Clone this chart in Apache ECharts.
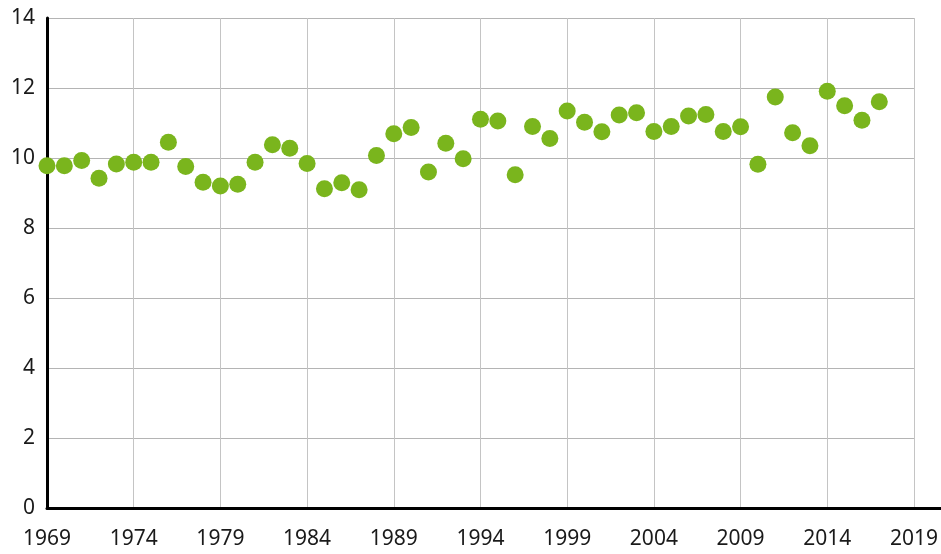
<!DOCTYPE html>
<html>
<head>
<meta charset="utf-8">
<script src="https://cdn.jsdelivr.net/npm/echarts@6/dist/echarts.min.js"></script>
<style>
	html, body { margin: 0; padding: 0; background: #fff; }
	#chart { width: 941px; height: 554px; }
</style>
</head>
<body>
<div id="chart"></div>
<script>
	// years 1969 - 2017
	var years = [
		1969, 1970, 1971, 1972, 1973, 1974, 1975, 1976, 1977, 1978,
		1979, 1980, 1981, 1982, 1983, 1984, 1985, 1986, 1987, 1988,
		1989, 1990, 1991, 1992, 1993, 1994, 1995, 1996, 1997, 1998,
		1999, 2000, 2001, 2002, 2003, 2004, 2005, 2006, 2007, 2008,
		2009, 2010, 2011, 2012, 2013, 2014, 2015, 2016, 2017
	];
	var values = [
		9.78, 9.78, 9.93, 9.42, 9.83, 9.88, 9.88, 10.45, 9.76, 9.31,
		9.2, 9.25, 9.88, 10.38, 10.28, 9.84, 9.12, 9.29, 9.09, 10.07,
		10.69, 10.87, 9.6, 10.42, 9.98, 11.11, 11.06, 9.52, 10.9, 10.56,
		11.34, 11.02, 10.75, 11.23, 11.29, 10.76, 10.9, 11.2, 11.24, 10.76,
		10.89, 9.82, 11.74, 10.72, 10.35, 11.91, 11.49, 11.08, 11.61
	];
	var xTicks = [1969, 1974, 1979, 1984, 1989, 1994, 1999, 2004, 2009, 2014, 2019];
	var yTicks = [0, 2, 4, 6, 8, 10, 12, 14];

	var points = years.map(function (y, i) { return [y, values[i]]; });

	var labelFont = { color: '#1a1a1a', fontSize: 21, fontFamily: 'Noto Sans' };

	var myChart = echarts.init(document.getElementById('chart'), null, { renderer: 'canvas' });
	var option = {
		animation: false,
		backgroundColor: '#fff',
		grid: [
			{ left: 47, top: 18, right: 25, bottom: 46, containLabel: false },
			{ left: 47, top: 18, right: 0, bottom: 46, containLabel: false }
		],
		xAxis: [
			{
				type: 'value',
				gridIndex: 0,
				min: xTicks[0],
				max: xTicks[xTicks.length - 1],
				interval: 5,
				axisLine: { show: false },
				axisTick: { show: false },
				splitLine: { show: true, lineStyle: { color: '#c4c4c4', width: 1 } },
				axisLabel: Object.assign({ margin: 21, formatter: function (v) { return String(v); } }, labelFont)
			},
			{
				// only the long black base line
				type: 'value',
				gridIndex: 1,
				min: 0,
				max: 1,
				axisLine: { show: true, onZero: false, lineStyle: { color: '#000', width: 3 } },
				axisTick: { show: false },
				axisLabel: { show: false },
				splitLine: { show: false }
			}
		],
		yAxis: [
			{
				type: 'value',
				gridIndex: 0,
				min: yTicks[0],
				max: yTicks[yTicks.length - 1],
				interval: 2,
				axisLine: { show: true, lineStyle: { color: '#000', width: 3 } },
				axisTick: { show: false },
				splitLine: { show: true, lineStyle: { color: '#b4b4b4', width: 1 } },
				axisLabel: Object.assign({ margin: 12 }, labelFont)
			},
			{
				type: 'value',
				gridIndex: 1,
				min: 0,
				max: 1,
				axisLine: { show: false },
				axisTick: { show: false },
				axisLabel: { show: false },
				splitLine: { show: false }
			}
		],
		series: [
			{
				type: 'scatter',
				xAxisIndex: 0,
				yAxisIndex: 0,
				data: points,
				symbolSize: 17,
				itemStyle: { color: '#7ab51d', opacity: 1 },
				z: 5
			}
		]
	};
	myChart.setOption(option);
	window.onresize = myChart.resize;
</script>
</body>
</html>
